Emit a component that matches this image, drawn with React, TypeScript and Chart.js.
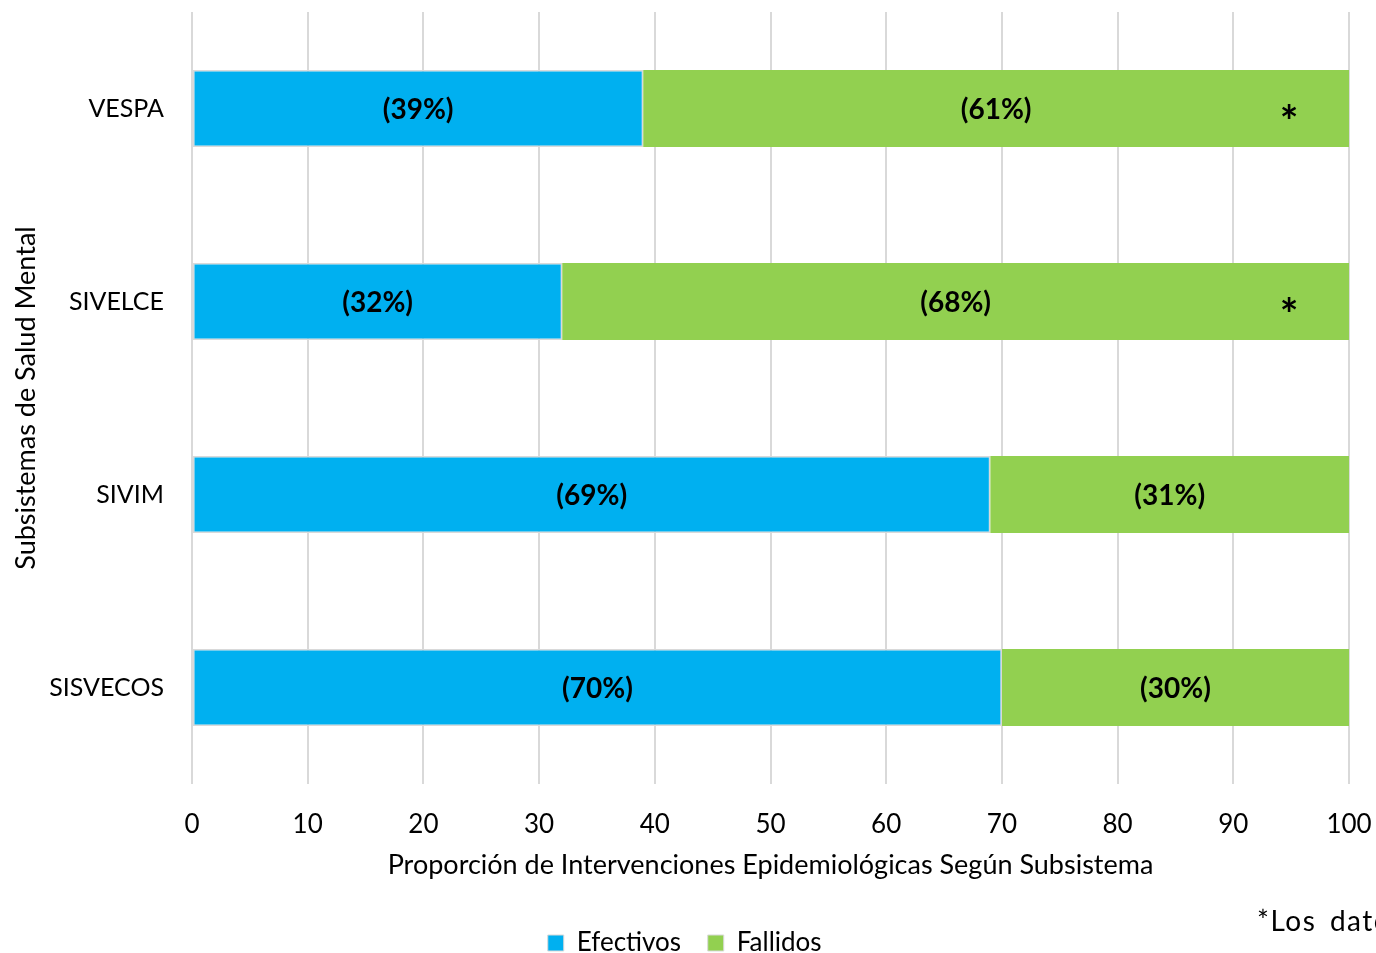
import React, { useEffect, useRef } from "react";
import { Chart, registerables } from "chart.js";

Chart.register(...registerables);

const categories = ["VESPA", "SIVELCE", "SIVIM", "SISVECOS"];
const efectivos = [39, 32, 69, 70];
const fallidos = [61, 68, 31, 30];
const efectivosLabels = ["(39%)", "(32%)", "(69%)", "(70%)"];
const fallidosLabels = ["(61%)", "(68%)", "(31%)", "(30%)"];
const asteriskCategories = ["VESPA", "SIVELCE"];
const asteriskValue = 95;
const xTicks = [0, 10, 20, 30, 40, 50, 60, 70, 80, 90, 100];

const FONT = "Lato, 'Open Sans', sans-serif";

const zeroPadding = (s: any, right = 0) => {
  s.paddingTop = 0;
  s.paddingBottom = 0;
  s.paddingLeft = 0;
  s.paddingRight = right;
};

const labelPlugin = {
  id: "barLabels",
  afterDatasetsDraw(chart: any) {
    const ctx = chart.ctx;
    ctx.save();
    ctx.fillStyle = "#000";
    ctx.textAlign = "center";
    ctx.textBaseline = "middle";
    ctx.font = `bold 28px ${FONT}`;
    const labelSets = [efectivosLabels, fallidosLabels];
    chart.data.datasets.forEach((ds: any, di: number) => {
      const meta = chart.getDatasetMeta(di);
      meta.data.forEach((el: any, i: number) => {
        const cx = (el.x + el.base) / 2;
        ctx.fillText(labelSets[di][i], cx, el.y + 1);
      });
    });
    const xs = chart.scales.x;
    const ys = chart.scales.y;
    ctx.font = `bold 44px ${FONT}`;
    asteriskCategories.forEach((c) => {
      const idx = categories.indexOf(c);
      ctx.fillText("*", xs.getPixelForValue(asteriskValue) - 2, ys.getPixelForValue(idx) + 14);
    });
    ctx.restore();
  },
};

export default function App() {
  const ref = useRef<HTMLCanvasElement | null>(null);
  useEffect(() => {
    if (!ref.current) return;
    const chart = new Chart(ref.current, {
      type: "bar",
      data: {
        labels: categories,
        datasets: [
          {
            label: "Efectivos",
            data: efectivos,
            backgroundColor: "#00B0F0",
            borderColor: "#D9D9D9",
            borderWidth: 1.5,
            borderSkipped: false,
            categoryPercentage: 1,
            barPercentage: 0.4,
          },
          {
            label: "Fallidos",
            data: fallidos,
            backgroundColor: "#92D050",
            borderWidth: 0,
            categoryPercentage: 1,
            barPercentage: 0.4,
          },
        ],
      },
      options: {
        indexAxis: "y",
        animation: false,
        responsive: true,
        maintainAspectRatio: false,
        layout: { padding: { top: 12, right: 0, left: 0, bottom: -13 } },
        plugins: {
          legend: {
            position: "bottom",
            labels: {
              color: "#000",
              font: { family: FONT, size: 26 },
              boxWidth: 16,
              boxHeight: 16,
              padding: 0,
              generateLabels: (chart: any) =>
                chart.data.datasets.map((d: any, i: number) => ({
                  text: i === 0 ? d.label + "    " : d.label + " ",
                  fillStyle: d.backgroundColor,
                  strokeStyle: "#D9D9D9",
                  lineWidth: 1,
                  hidden: false,
                  datasetIndex: i,
                  fontColor: "#000",
                })),
            },
          },
          tooltip: { enabled: false },
        },
        scales: {
          x: {
            stacked: true,
            min: 0,
            max: 100,
            afterBuildTicks: (s: any) => {
              s.ticks = xTicks.map((v) => ({ value: v }));
            },
            afterFit: (s: any) => {
              s.height = 146;
              zeroPadding(s, 27);
            },
            grid: { color: "#D9D9D9", lineWidth: 2, drawTicks: false },
            border: { display: false },
            ticks: { color: "#000", font: { family: FONT, size: 26 }, padding: 25 },
            title: {
              display: true,
              text: "Proporción de Intervenciones Epidemiológicas Según Subsistema",
              color: "#000",
              font: { family: FONT, size: 27 },
              padding: 49,
            },
          },
          y: {
            stacked: true,
            afterFit: (s: any) => {
              s.width = 192;
              zeroPadding(s);
            },
            grid: { display: false, drawTicks: false },
            border: { display: false },
            ticks: { color: "#000", font: { family: FONT, size: 25 }, padding: 28 },
            title: {
              display: true,
              text: "Subsistemas de Salud Mental",
              color: "#000",
              font: { family: FONT, size: 27 },
              padding: 10,
            },
          },
        },
      },
      plugins: [labelPlugin],
    } as any);
    return () => chart.destroy();
  }, []);

  return (
    <div
      style={{
        position: "fixed",
        left: 0,
        top: 0,
        width: 1376,
        height: 953,
        overflow: "hidden",
        background: "#fff",
      }}
    >
      <div style={{ position: "absolute", left: 0, top: 0, width: 1376, height: 953 }}>
        <canvas ref={ref} />
      </div>
      <div
        style={{
          position: "absolute",
          left: 1257,
          top: 903,
          whiteSpace: "nowrap",
          fontFamily: FONT,
          fontSize: 28,
          color: "#000",
          wordSpacing: 5,
          letterSpacing: 1.5,
        }}
      >
        *Los datos
      </div>
    </div>
  );
}
